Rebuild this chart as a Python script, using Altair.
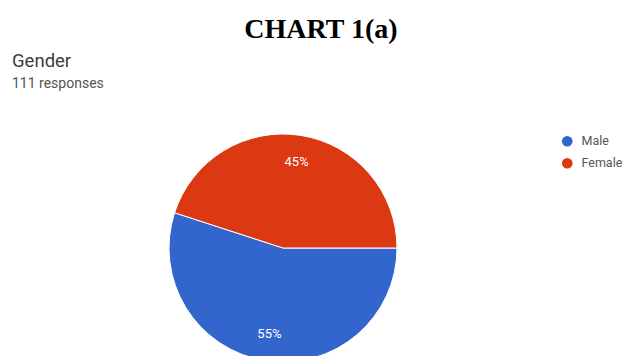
import math
import altair as alt
import pandas as pd

categories = ["Male", "Female"]
values = [55, 45]
pct_labels = ["55%", "45%"]
colors = ["#3366CC", "#DC3912"]

df = pd.DataFrame({"gender": categories, "value": values, "label": pct_labels,
                   "order": [0, 1]})

theta = alt.Theta("value:Q", stack=True,
                  scale=alt.Scale(domain=[0, 100], range=[math.pi / 2, math.pi / 2 + 2 * math.pi]))

base = alt.Chart(df).encode(theta=theta, order=alt.Order("order:Q"))

pie = base.mark_arc(radius=114, stroke="white", strokeWidth=1).encode(
    x=alt.value(283), y=alt.value(248),
    color=alt.Color("gender:N", sort=categories,
                    scale=alt.Scale(domain=categories, range=colors),
                    legend=alt.Legend(orient="none", legendX=561, legendY=135, title=None,
                                      symbolType="circle", symbolSize=115, symbolStrokeWidth=0,
                                      labelFontSize=12.5, labelColor="#555555", labelFont="Roboto",
                                      rowPadding=9, padding=0, labelOffset=8)),
)

pct = base.mark_text(radius=87, fill="white", fontSize=13, font="Roboto").encode(
    x=alt.value(283), y=alt.value(248), text="label:N")

title_df = pd.DataFrame({"t": ["CHART 1(a)"]})
title = alt.Chart(title_df).mark_text(font="Liberation Serif", fontWeight="bold", fontSize=28,
                                      color="black", baseline="alphabetic", align="center").encode(
    x=alt.value(321), y=alt.value(38), text="t:N")

g_df = pd.DataFrame({"t": ["Gender"]})
gender = alt.Chart(g_df).mark_text(font="Roboto", fontSize=18.5, color="#3c3c3c",
                                   baseline="alphabetic", align="left").encode(
    x=alt.value(12), y=alt.value(67), text="t:N")

r_df = pd.DataFrame({"t": ["111 responses"]})
resp = alt.Chart(r_df).mark_text(font="Roboto", fontSize=14, color="#555555",
                                 baseline="alphabetic", align="left").encode(
    x=alt.value(12), y=alt.value(88), text="t:N")

chart = alt.layer(pie, pct, title, gender, resp).properties(
    width=633, height=356, padding=0, autosize=alt.AutoSizeParams(type="none"),
    background="white"
).configure_view(stroke=None)

chart.save("out.html", embed_options={"renderer": "svg", "actions": False})
